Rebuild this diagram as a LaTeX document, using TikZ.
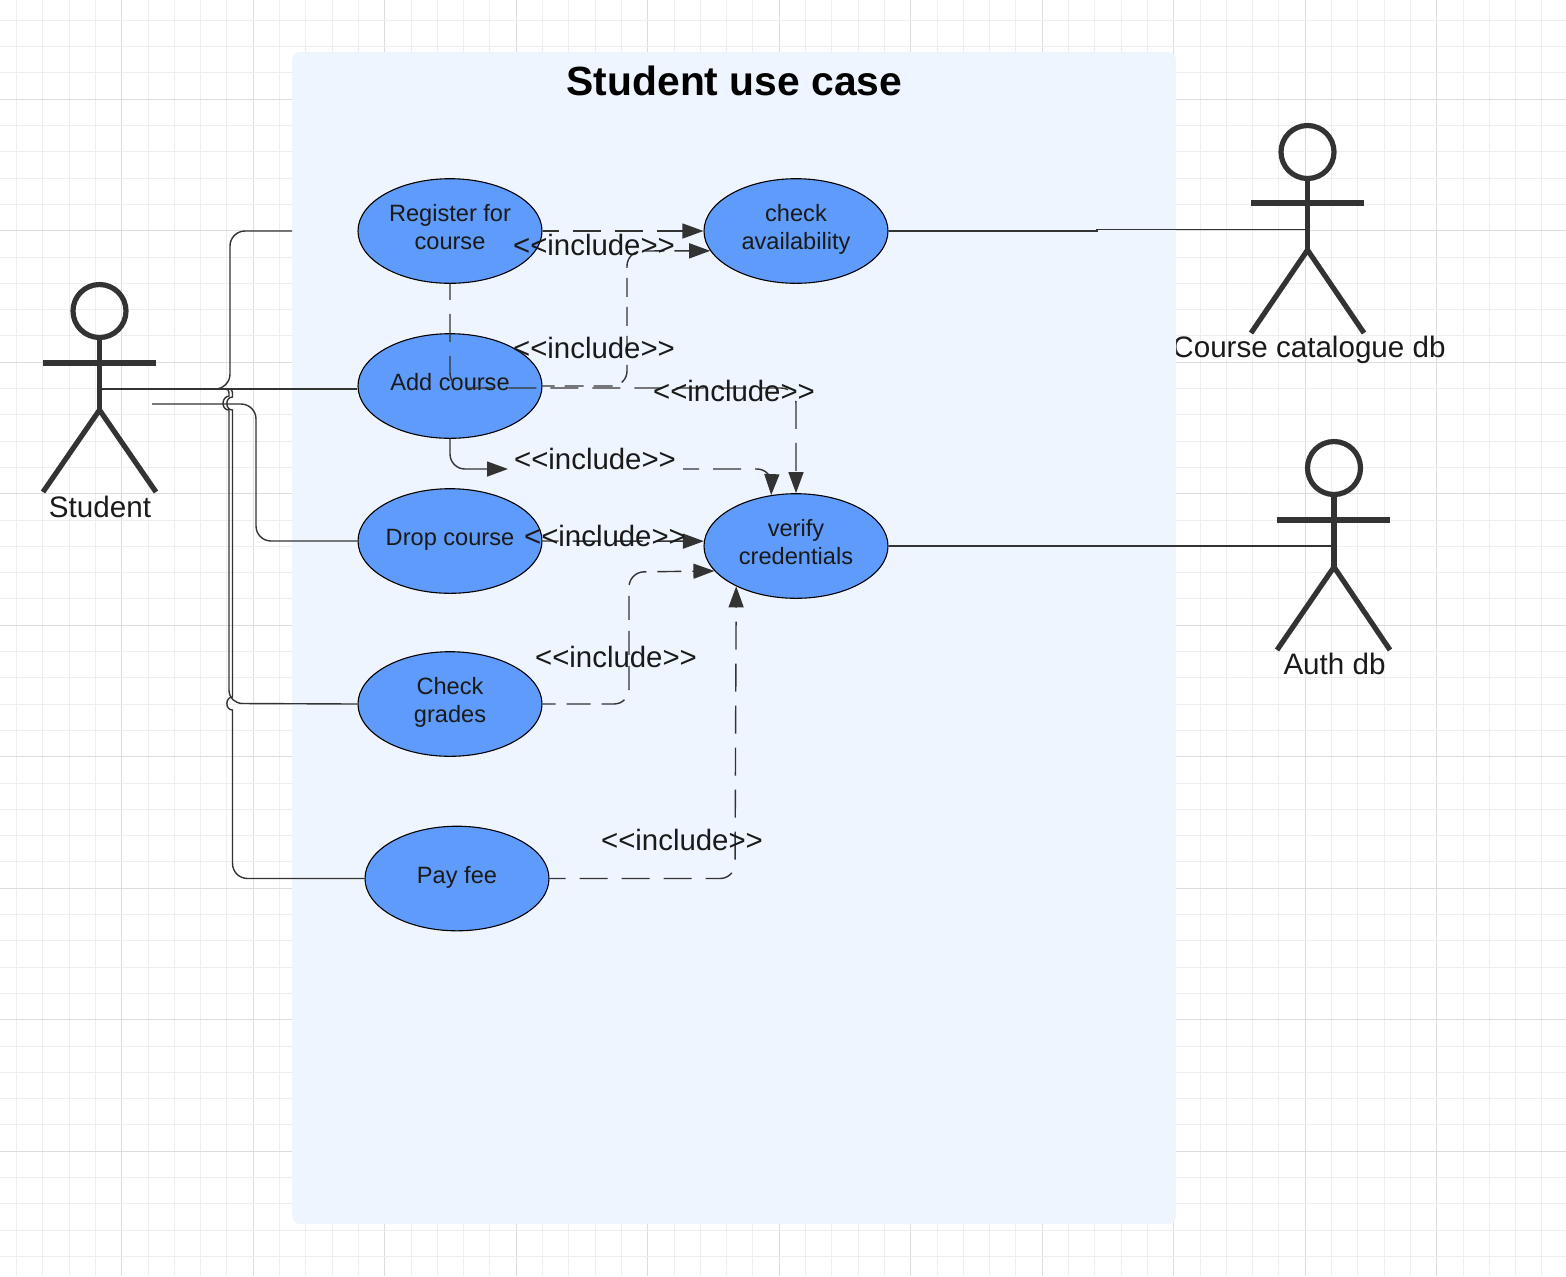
\documentclass[tikz,border=0pt]{standalone}
\usepackage{fontspec}
\setmainfont{Liberation Sans}
\usetikzlibrary{shapes.geometric,arrows.meta}
\definecolor{ink}{HTML}{333333}
\definecolor{txt}{HTML}{1A1A1A}
\definecolor{panel}{HTML}{EFF5FF}
\definecolor{ucase}{HTML}{5F9BFA}
\definecolor{gridminor}{HTML}{EEEEEE}
\definecolor{gridmajor}{HTML}{DDDDDD}
\tikzset{
  usecase/.style={ellipse,draw=black,line width=.55pt,fill=ucase,minimum width=92pt,minimum height=52.3pt,inner sep=0pt,align=center,font=\fontsize{11.8}{14}\selectfont,text=txt,text depth=4pt},
  head/.style={circle,draw=ink,line width=2.6pt,minimum size=26.5pt,inner sep=0pt},
  limb/.style={draw=ink,line width=2.6pt},
  actorname/.style={font=\fontsize{14.8}{17}\selectfont,text=txt},
  inc/.style={font=\fontsize{14.7}{17}\selectfont,text=txt},
  assoc/.style={draw=ink,line width=.7pt,rounded corners=7.5pt},
  incl/.style={draw=ink,line width=.7pt,rounded corners=7.5pt,dash pattern=on 14pt off 7pt,dash phase=6pt},
  inclshort/.style={draw=ink,line width=.7pt,rounded corners=7.5pt,dash pattern=on 12pt off 5.5pt,dash phase=5.5pt},
  inclshorter/.style={draw=ink,line width=.7pt,rounded corners=7.5pt,dash pattern=on 9.5pt off 5pt,dash phase=3.5pt},
  tip/.style={-{Triangle[length=10.5pt,width=7.5pt,fill=ink]}},
}
\begin{document}
\begin{tikzpicture}[x=0.5pt,y=-0.5pt]
\useasboundingbox (0,0) rectangle (1566,1276);
% grid
\foreach \i in {0,...,59}{
  \pgfmathtruncatemacro{\m}{mod(\i,5)}
  \ifnum\m=4 \def\gc{gridmajor}\else\def\gc{gridminor}\fi
  \draw[\gc,line width=.5pt] ({16.5+26.3*\i},0) -- ({16.5+26.3*\i},1276);
}
\foreach \i in {0,...,48}{
  \pgfmathtruncatemacro{\m}{mod(\i,5)}
  \ifnum\m=3 \def\gc{gridmajor}\else\def\gc{gridminor}\fi
  \draw[\gc,line width=.5pt] (0,{20.3+26.3*\i}) -- (1566,{20.3+26.3*\i});
}
% actor names, the first one partly under the panel
\node[actorname] (catname) at (1309,350) {Course catalogue db};
\node[actorname] (stuname) at (100,507) {Student};
\node[actorname] (authname) at (1334.5,664) {Auth db};
% panel
\node[draw=none,fill=panel,rounded corners=4pt,minimum width=442pt,minimum height=586pt,inner sep=0pt] (panel) at (734,638) {};
\node[font=\fontsize{20.4}{24}\selectfont\bfseries,text=black] (title) at (734.5,81) {Student use case};
% actors
\node[head] (stuhead) at (99.5,311) {};
\coordinate (stuhip) at (99.5,410);
\coordinate (stumid) at (99.5,389);
\draw[limb] (stuhead) -- (stuhip);
\draw[limb] (43,363) -- (156,363);
\draw[limb] (43,492) -- (stuhip) -- (156,492);
\node[head] (cathead) at (1307.5,152) {};
\coordinate (cathip) at (1307.5,250);
\coordinate (catmid) at (1307.5,229.5);
\draw[limb] (cathead) -- (cathip);
\draw[limb] (1251,203) -- (1364,203);
\draw[limb] (1251,333) -- (cathip) -- (1364,333);
\node[head] (authhead) at (1334,468) {};
\coordinate (authhip) at (1334,567);
\coordinate (authmid) at (1334,546);
\draw[limb] (authhead) -- (authhip);
\draw[limb] (1277,520) -- (1390,520);
\draw[limb] (1277,650) -- (authhip) -- (1390,650);
% use cases
\node[usecase] (reg) at (450,231) {Register for\\course};
\node[usecase] (add) at (450,386) {Add course};
\node[usecase] (drop) at (450,541) {Drop course};
\node[usecase] (grades) at (450,704) {Check\\grades};
\node[usecase] (pay) at (457,878.5) {Pay fee};
\node[usecase] (avail) at (796,231) {check\\availability};
\node[usecase] (verify) at (796,546) {verify\\credentials};
% associations
\coordinate (panelin) at (292,231);
\coordinate (stuside) at (152,404);
\draw[assoc] (stumid) -- (230,389) -- (230,231) -- (panelin);
\draw[assoc] (stumid) -- (add.west |- stumid);
\draw[assoc] (stuside) -- (256,404) -- (256,541) -- (drop.west);
\draw[draw=ink,line width=.7pt] (stumid) -- (221,389) .. controls (229,389) .. (229,396)
  .. controls (221,397) and (221,410) .. (229,410) -- (229,690)
  .. controls (229,698) and (235,703.5) .. (243,703.5) -- (grades.west);
\draw[draw=ink,line width=.7pt] (stumid) -- (226,389) .. controls (232.5,389) .. (232.5,397)
  .. controls (225,397) and (225,410) .. (232.5,410) -- (232.5,697)
  .. controls (225,697) and (225,710) .. (232.5,710) -- (232.5,863)
  .. controls (232.5,872) and (239,878.5) .. (248,878.5) -- (pay.west);
\draw[draw=ink,line width=.7pt] (avail.east) -- (1097,231) -- (1097,229.5) -- (catmid);
\draw[assoc] (verify.east) -- (authmid);
% includes
\draw[incl,tip] (reg.east) -- (avail.west);
\draw[inclshorter,tip] (add.east) -- (627,386) -- (627,251) -- (avail.193);
\draw[incl,tip] (reg.south) -- (450,388) -- (796,388) -- (verify.north);
\coordinate (addmid) at (508,469);
\coordinate (addcont) at (683,469);
\draw[assoc,tip] (add.south) -- (450,469) -- (addmid);
\draw[incl,tip] (addcont) -- (772,469) -- (verify.116);
\draw[incl,tip] (drop.east) -- (verify.177);
\draw[inclshort,tip] (grades.east) -- (629,704) -- (629,572) -- (verify.197);
\draw[incl,tip] (pay.east) -- (735,878.5) -- (verify.214);
% labels
\node[inc] (l1) at (594,245) {<{}<include>{}>};
\node[inc] (l2) at (594,348) {<{}<include>{}>};
\node[inc] (l3) at (734,391) {<{}<include>{}>};
\node[inc] (l4) at (595,459) {<{}<include>{}>};
\node[inc] (l5) at (605,536) {<{}<include>{}>};
\node[inc] (l6) at (616,657) {<{}<include>{}>};
\node[inc] (l7) at (682,840) {<{}<include>{}>};
\end{tikzpicture}
\end{document}
